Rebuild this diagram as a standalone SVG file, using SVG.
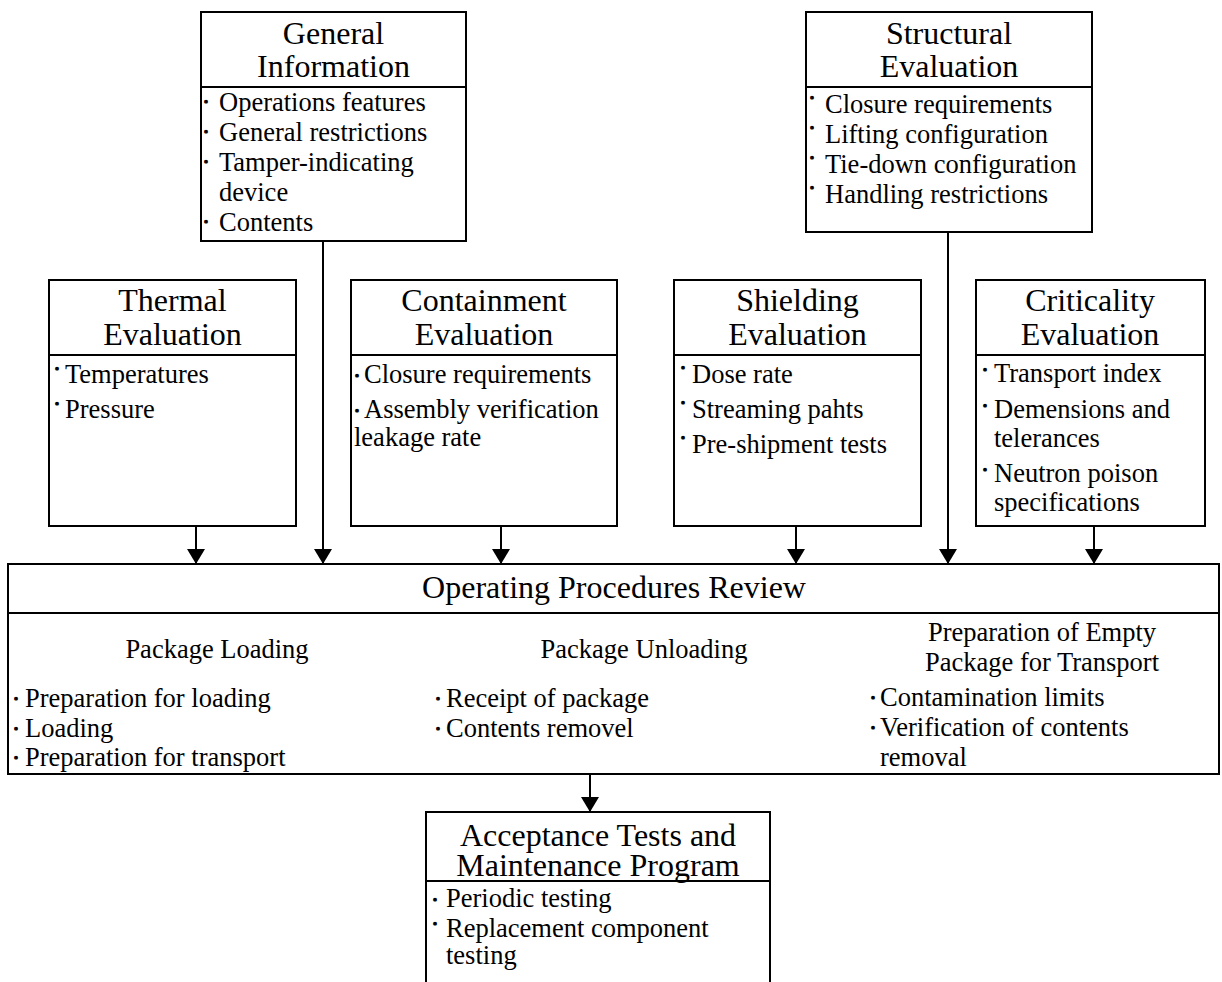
<svg xmlns="http://www.w3.org/2000/svg" width="1222" height="982" viewBox="0 0 1222 982">
  <defs>
    <style>
      .box { fill: #fff; stroke: #000; stroke-width: 2; }
      .sep { stroke: #000; stroke-width: 2; }
      .wire { stroke: #000; stroke-width: 2; fill: none; marker-end: url(#arrow); }
      .t { font-family: "Liberation Serif", "Times New Roman", serif; font-size: 32px; text-anchor: middle; fill: #000; }
      .s { font-family: "Liberation Serif", "Times New Roman", serif; font-size: 26.5px; text-anchor: middle; fill: #000; }
      .i { font-family: "Liberation Serif", "Times New Roman", serif; font-size: 26.5px; fill: #000; }
      .b { font-family: "Noto Sans CJK JP", "Noto Sans CJK SC", sans-serif; font-size: 12px; text-anchor: middle; fill: #000; stroke: #000; stroke-width: 1.2; }
    </style>
    <marker id="arrow" viewBox="0 0 15 18" refX="15" refY="9" markerWidth="15" markerHeight="18" markerUnits="userSpaceOnUse" orient="auto">
      <path d="M0,0 L15,9 L0,18 Z" fill="#000"/>
    </marker>
  </defs>

  <!-- connectors into the review box and on to the test programme -->
  <g id="connectors">
    <line class="wire" x1="196" y1="526" x2="196" y2="564"/>
    <line class="wire" x1="323" y1="241" x2="323" y2="564"/>
    <line class="wire" x1="501" y1="526" x2="501" y2="564"/>
    <line class="wire" x1="796" y1="526" x2="796" y2="564"/>
    <line class="wire" x1="948" y1="232" x2="948" y2="564"/>
    <line class="wire" x1="1094" y1="526" x2="1094" y2="564"/>
    <line class="wire" x1="590" y1="774" x2="590" y2="812"/>
  </g>

  <g id="general-information">
    <rect class="box" x="201" y="12" width="265" height="229"/>
    <line class="sep" x1="201" y1="87" x2="466" y2="87"/>
    <text class="t" x="333.5" y="44">General</text>
    <text class="t" x="333.5" y="77">Information</text>
    <text class="b" x="206" y="107.3">・</text>
    <text class="i" x="219" y="110.7">Operations features</text>
    <text class="b" x="206" y="137.3">・</text>
    <text class="i" x="219" y="140.7">General restrictions</text>
    <text class="b" x="206" y="167.3">・</text>
    <text class="i" x="219" y="170.7">Tamper-indicating</text>
    <text class="i" x="219" y="200.5">device</text>
    <text class="b" x="206" y="227.1">・</text>
    <text class="i" x="219" y="230.5">Contents</text>
  </g>

  <g id="structural-evaluation">
    <rect class="box" x="806" y="12" width="286" height="220"/>
    <line class="sep" x1="806" y1="87" x2="1092" y2="87"/>
    <text class="t" x="949" y="44">Structural</text>
    <text class="t" x="949" y="77">Evaluation</text>
    <text class="b" x="812" y="102.6">・</text>
    <text class="i" x="825" y="113">Closure requirements</text>
    <text class="b" x="812" y="132.6">・</text>
    <text class="i" x="825" y="143">Lifting configuration</text>
    <text class="b" x="812" y="162.6">・</text>
    <text class="i" x="825" y="173">Tie-down configuration</text>
    <text class="b" x="812" y="192.6">・</text>
    <text class="i" x="825" y="203">Handling restrictions</text>
  </g>

  <g id="thermal-evaluation">
    <rect class="box" x="49" y="280" width="247" height="246"/>
    <line class="sep" x1="49" y1="355" x2="296" y2="355"/>
    <text class="t" x="172.5" y="311">Thermal</text>
    <text class="t" x="172.5" y="345">Evaluation</text>
    <text class="b" x="57" y="373.6">・</text>
    <text class="i" x="65" y="383">Temperatures</text>
    <text class="b" x="57" y="408.6">・</text>
    <text class="i" x="65" y="418">Pressure</text>
  </g>

  <g id="containment-evaluation">
    <rect class="box" x="351" y="280" width="266" height="246"/>
    <line class="sep" x1="351" y1="355" x2="617" y2="355"/>
    <text class="t" x="484" y="311">Containment</text>
    <text class="t" x="484" y="345">Evaluation</text>
    <text class="b" x="357" y="380.6">・</text>
    <text class="i" x="364" y="383">Closure requirements</text>
    <text class="b" x="357" y="415.6">・</text>
    <text class="i" x="364" y="418">Assembly verification</text>
    <text class="i" x="354" y="446">leakage rate</text>
  </g>

  <g id="shielding-evaluation">
    <rect class="box" x="674" y="280" width="247" height="246"/>
    <line class="sep" x1="674" y1="355" x2="921" y2="355"/>
    <text class="t" x="797.5" y="311">Shielding</text>
    <text class="t" x="797.5" y="345">Evaluation</text>
    <text class="b" x="683" y="372.6">・</text>
    <text class="i" x="692" y="383">Dose rate</text>
    <text class="b" x="683" y="407.6">・</text>
    <text class="i" x="692" y="418">Streaming pahts</text>
    <text class="b" x="683" y="442.6">・</text>
    <text class="i" x="692" y="453">Pre-shipment tests</text>
  </g>

  <g id="criticality-evaluation">
    <rect class="box" x="976" y="280" width="229" height="246"/>
    <line class="sep" x1="976" y1="355" x2="1205" y2="355"/>
    <text class="t" x="1090" y="311">Criticality</text>
    <text class="t" x="1090" y="345">Evaluation</text>
    <text class="b" x="985" y="374.6">・</text>
    <text class="i" x="994" y="382">Transport index</text>
    <text class="b" x="985" y="410.6">・</text>
    <text class="i" x="994" y="418">Demensions and</text>
    <text class="i" x="994" y="447">telerances</text>
    <text class="b" x="985" y="474.6">・</text>
    <text class="i" x="994" y="482">Neutron poison</text>
    <text class="i" x="994" y="511">specifications</text>
  </g>

  <g id="operating-procedures-review">
    <rect class="box" x="8" y="564" width="1211" height="210"/>
    <line class="sep" x1="8" y1="613" x2="1219" y2="613"/>
    <text class="t" x="614" y="598">Operating Procedures Review</text>

    <text class="s" x="217" y="658">Package Loading</text>
    <text class="b" x="16" y="703.6">・</text>
    <text class="i" x="25" y="707">Preparation for loading</text>
    <text class="b" x="16" y="733.6">・</text>
    <text class="i" x="25" y="737">Loading</text>
    <text class="b" x="16" y="762.6">・</text>
    <text class="i" x="25" y="766">Preparation for transport</text>

    <text class="s" x="644" y="658">Package Unloading</text>
    <text class="b" x="438" y="703.6">・</text>
    <text class="i" x="446" y="707">Receipt of package</text>
    <text class="b" x="438" y="733.6">・</text>
    <text class="i" x="446" y="737">Contents removel</text>

    <text class="s" x="1042" y="641">Preparation of Empty</text>
    <text class="s" x="1042" y="671">Package for Transport</text>
    <text class="b" x="873" y="702.6">・</text>
    <text class="i" x="880" y="706">Contamination limits</text>
    <text class="b" x="873" y="732.6">・</text>
    <text class="i" x="880" y="736">Verification of contents</text>
    <text class="i" x="880" y="766">removal</text>
  </g>

  <g id="acceptance-tests">
    <rect class="box" x="426" y="812" width="344" height="190"/>
    <line class="sep" x1="426" y1="881" x2="770" y2="881"/>
    <text class="t" x="598" y="846">Acceptance Tests and</text>
    <text class="t" x="598" y="876">Maintenance Program</text>
    <text class="b" x="435" y="904.6">・</text>
    <text class="i" x="446" y="907">Periodic testing</text>
    <text class="b" x="435" y="928.6">・</text>
    <text class="i" x="446" y="937">Replacement component</text>
    <text class="i" x="446" y="964">testing</text>
  </g>
</svg>
